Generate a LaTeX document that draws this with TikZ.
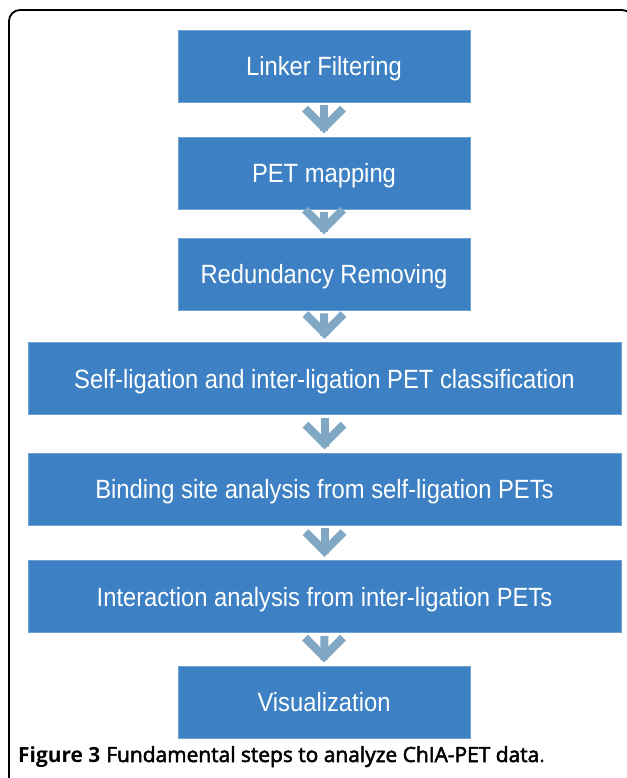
\documentclass[tikz,border=0pt]{standalone}
\usepackage{fontspec}
\setmainfont{Liberation Sans}
\newfontfamily\capfont{Open Sans}
\newfontface\capbold{Open Sans Bold}
\newfontface\capmed{Open Sans}[FakeBold=2.5]
\definecolor{boxblue}{RGB}{61,128,195}
\definecolor{boxedge}{RGB}{110,160,210}
\definecolor{arrowgrey}{RGB}{128,167,196}
\newcommand{\sqz}[1]{\scalebox{0.9}[1]{#1}}
\tikzset{
  stepbox/.style={fill=boxblue, draw=boxedge, line width=0.8bp, text=white,
    minimum height=72bp, inner sep=0pt, text height=19bp, text depth=0bp,
    font=\fontsize{26.5}{30}\selectfont},
  narrowbox/.style={stepbox, minimum width=292bp},
  widebox/.style={stepbox, minimum width=593bp},
  flowarrow/.style={draw=arrowgrey, line width=8bp, line join=miter, line cap=butt}
}
\newcommand{\flowdown}[2]{%
  \path (#1.south) ++(0,3) coordinate (#1-top);
  \path (#2.north) ++(0,-9) coordinate (#1-tip);
  \draw[flowarrow] (#1-top) -- ([yshift=-3bp]#1-tip);
  \draw[flowarrow] ([shift={(-19,-19)}]#1-tip) -- (#1-tip) -- ([shift={(19,-19)}]#1-tip);
}
\begin{document}
\begin{tikzpicture}[x=1bp,y=-1bp]
\useasboundingbox (0,0) rectangle (627,778);
\fill[white] (0,0) rectangle (627,778);
\draw[line width=1.8bp, rounded corners=11bp] (9,790) -- (9,10) -- (633,10) -- (633,790);
\node[narrowbox] (b1) at (324,66) {\sqz{Linker Filtering}};
\node[narrowbox] (b2) at (324,173) {\sqz{PET mapping}};
\node[narrowbox] (b3) at (324,274) {\sqz{Redundancy Removing}};
\node[widebox] (b4) at (324.5,378.5) {\sqz{Self-ligation and inter-ligation PET classification}};
\node[widebox] (b5) at (324.5,489) {\sqz{Binding site analysis from self-ligation PETs}};
\node[widebox] (b6) at (324.5,596.5) {\sqz{Interaction analysis from inter-ligation PETs}};
\node[narrowbox] (b7) at (324,702) {\sqz{Visualization}};
\flowdown{b1}{b2}
\flowdown{b2}{b3}
\flowdown{b3}{b4}
\flowdown{b4}{b5}
\flowdown{b5}{b6}
\flowdown{b6}{b7}
\node[anchor=base west, inner sep=0pt, font=\fontsize{21}{24}\selectfont] (cap) at (18,762)
  {{\capbold Figure 3} {\capmed Fundamental steps to analyze ChIA-PET data}{\capfont .}};
\end{tikzpicture}
\end{document}
